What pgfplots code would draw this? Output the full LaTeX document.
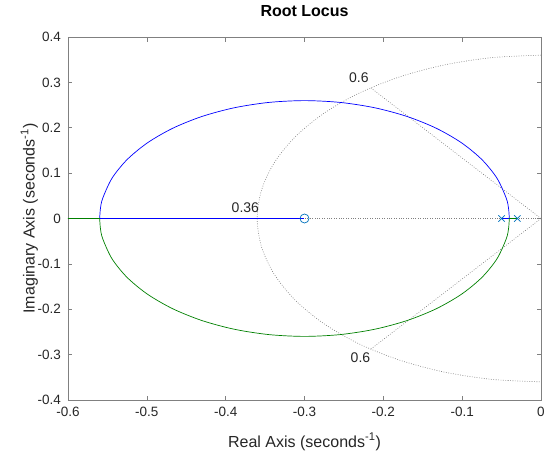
\documentclass[border=0pt]{standalone}
\usepackage{fontspec}
\setmainfont{Liberation Sans}
\usepackage{pgfplots}
\pgfplotsset{compat=1.18}
\definecolor{txt}{rgb}{0.15,0.15,0.15}
\definecolor{axc}{rgb}{0.5,0.5,0.5}
\definecolor{mblue}{rgb}{0,0.447,0.741}
\definecolor{lblue}{rgb}{0,0,1}
\definecolor{lgreen}{rgb}{0,0.5,0}
\definecolor{gridc}{rgb}{0.5,0.5,0.5}
\begin{document}
\begin{tikzpicture}
\path[use as bounding box] (-68pt,-53pt) rectangle (476pt,400pt);
\begin{axis}[
  scale only axis, width=473pt, height=363pt,
  xmin=-0.6, xmax=0, ymin=-0.4, ymax=0.4,
  xtick={-0.6,-0.5,-0.4,-0.3,-0.2,-0.1,0},
  ytick={-0.4,-0.3,-0.2,-0.1,0,0.1,0.2,0.3,0.4},
  xticklabels={-0.6,-0.5,-0.4,-0.3,-0.2,-0.1,0},
  yticklabels={-0.4,-0.3,-0.2,-0.1,0,0.1,0.2,0.3,0.4},
  tick align=inside, major tick length=4.5pt,
  axis line style={draw=axc, line width=0.6pt},
  every tick/.style={draw=axc, line width=0.6pt},
  tick label style={font=\fontsize{13.5}{16}\selectfont, text=txt},
  xticklabel style={anchor=base, yshift=-16pt},
  yticklabel style={anchor=east, inner sep=0pt, xshift=-7pt},
  title={\textbf{Root Locus}},
  title style={at={(axis description cs:0.5,1.0386)}, anchor=base, font=\fontsize{16}{18}\selectfont, text=black},
  xlabel={Real Axis (seconds\textsuperscript{-1})},
  ylabel={Imaginary Axis (seconds\textsuperscript{-1})},
  xlabel style={at={(axis description cs:0.5,-0.1295)}, anchor=base, font=\fontsize{16}{18}\selectfont, text=txt},
  ylabel style={at={(axis description cs:-0.0705,0.5)}, anchor=base, font=\fontsize{16}{18}\selectfont, text=txt},
  clip=true,
]
% grid: natural frequency circle 0.36
\addplot[gridc, line width=0.6pt, dash pattern=on 0.8pt off 1.6pt, smooth] coordinates {
(0,0.36) (-0.06251,0.35453) (-0.12313,0.33829) (-0.18,0.31177) (-0.23140,0.27578)
(-0.27578,0.23140) (-0.31177,0.18) (-0.33829,0.12313) (-0.35453,0.06251) (-0.36,0)
(-0.35453,-0.06251) (-0.33829,-0.12313) (-0.31177,-0.18) (-0.27578,-0.23140) (-0.23140,-0.27578)
(-0.18,-0.31177) (-0.12313,-0.33829) (-0.06251,-0.35453) (0,-0.36)};
% damping lines 0.6
\addplot[gridc, line width=0.6pt, dash pattern=on 0.8pt off 1.6pt] coordinates {(0,0) (-0.216,0.288)};
\addplot[gridc, line width=0.6pt, dash pattern=on 0.8pt off 1.6pt] coordinates {(0,0) (-0.216,-0.288)};
\addplot[gridc, line width=0.6pt, dash pattern=on 0.8pt off 1.6pt] coordinates {(0,0) (-0.36,0)};
% upper locus (blue)
\addplot[lblue, line width=0.7pt, smooth] coordinates {
(-0.04019,0) (-0.04118,0.02264) (-0.04414,0.04512) (-0.05586,0.08886) (-0.07500,0.12990)
(-0.10097,0.16700) (-0.13300,0.19903) (-0.17010,0.22500) (-0.21114,0.24414) (-0.25488,0.25586)
(-0.3,0.25981) (-0.34512,0.25586) (-0.38886,0.24414) (-0.42990,0.22500) (-0.46700,0.19903)
(-0.49903,0.16700) (-0.52500,0.12990) (-0.54414,0.08886) (-0.55586,0.04512) (-0.55882,0.02264) (-0.55981,0)};
% lower locus (green)
\addplot[lgreen, line width=0.7pt, smooth] coordinates {
(-0.04019,0) (-0.04118,-0.02264) (-0.04414,-0.04512) (-0.05586,-0.08886) (-0.07500,-0.12990)
(-0.10097,-0.16700) (-0.13300,-0.19903) (-0.17010,-0.22500) (-0.21114,-0.24414) (-0.25488,-0.25586)
(-0.3,-0.25981) (-0.34512,-0.25586) (-0.38886,-0.24414) (-0.42990,-0.22500) (-0.46700,-0.19903)
(-0.49903,-0.16700) (-0.52500,-0.12990) (-0.54414,-0.08886) (-0.55586,-0.04512) (-0.55882,-0.02264) (-0.55981,0)};
% real-axis segments
\addplot[lblue, line width=0.7pt] coordinates {(-0.55981,0) (-0.3,0)};
\addplot[lblue, line width=0.7pt] coordinates {(-0.05,0) (-0.04019,0)};
\addplot[lgreen, line width=0.7pt] coordinates {(-0.55981,0) (-0.62,0)};
\addplot[lgreen, line width=0.7pt] coordinates {(-0.03,0) (-0.04019,0)};
% zero and poles
\addplot[only marks, mark=o, mark size=4.5pt, mblue, mark options={line width=0.7pt}] coordinates {(-0.3,0)};
\addplot[only marks, mark=x, mark size=4.5pt, mblue, mark options={line width=0.7pt}] coordinates {(-0.05,0) (-0.03,0)};
% grid labels
\node[font=\fontsize{14}{16}\selectfont, text=txt] at (axis cs:-0.231,0.31) {0.6};
\node[font=\fontsize{14}{16}\selectfont, text=txt] at (axis cs:-0.229,-0.307) {0.6};
\node[font=\fontsize{14}{16}\selectfont, text=txt] at (axis cs:-0.375,0.023) {0.36};
\end{axis}
\end{tikzpicture}
\end{document}
